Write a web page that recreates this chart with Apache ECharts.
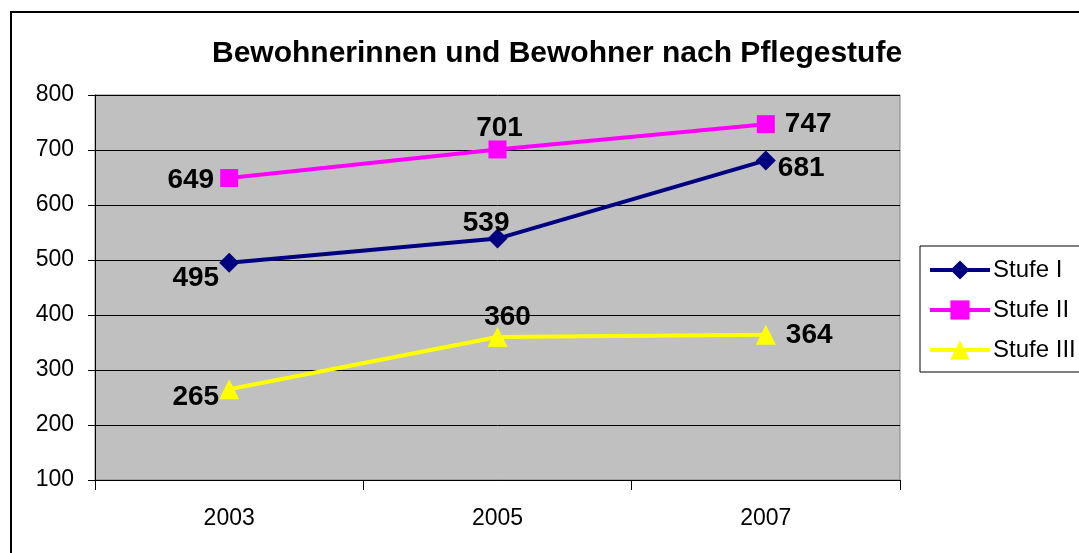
<!DOCTYPE html>
<html>
<head>
<meta charset="utf-8">
<script src="https://cdn.jsdelivr.net/npm/echarts@6/dist/echarts.min.js"></script>
<style>
  html, body { margin: 0; padding: 0; background: #fff; }
  #chart { width: 1079px; height: 553px; }
</style>
</head>
<body>
<div id="chart"></div>
<script>
const years = ['2003', '2005', '2007']
const stufe1 = [495, 539, 681]
const stufe2 = [649, 701, 747]
const stufe3 = [265, 360, 364]

// label placement per point, as in the reference
const labelPos1 = [['left', [6, 16]], ['left', [28, -15]], ['right', [-4, 8]]]
const labelPos2 = [['left', [0, 2]], ['top', [2, 8]], ['right', [4, 0]]]
const labelPos3 = [['left', [6, 8]], ['top', [10, 10]], ['right', [4, 0]]]

const FONT = '"Liberation Sans", Arial, sans-serif'

const makeData = (values, pos) => values.map((v, i) => ({
  value: v,
  label: { position: pos[i][0], offset: pos[i][1] }
}))

const makeSeries = (name, values, pos, color, symbol, size) => ({
  name,
  type: 'line',
  data: makeData(values, pos),
  symbol,
  symbolSize: size,
  lineStyle: { color, width: 4 },
  itemStyle: { color },
  label: {
    show: true,
    distance: 6,
    color: '#000',
    fontFamily: FONT,
    fontWeight: 'bold',
    fontSize: 28
  },
  emphasis: { disabled: true }
})

const chart = echarts.init(document.getElementById('chart'))

chart.setOption({
  animation: false,
  textStyle: { fontFamily: FONT },
  title: {
    text: 'Bewohnerinnen und Bewohner nach Pflegestufe',
    left: 207,
    top: 34,
    textStyle: { fontFamily: FONT, fontWeight: 'bold', fontSize: 30, color: '#000' }
  },
  graphic: [{
    type: 'rect',
    shape: { x: 11, y: 12, width: 1200, height: 700 },
    style: { fill: 'none', stroke: '#000', lineWidth: 2 },
    z: -1
  }],
  legend: {
    orient: 'vertical',
    left: 920,
    top: 246,
    padding: [12, 60, 10, 8],
    itemGap: 16,
    itemWidth: 60,
    itemHeight: 24,
    borderColor: '#000',
    borderWidth: 1,
    backgroundColor: '#fff',
    lineStyle: { width: 4 },
    textStyle: { fontFamily: FONT, fontSize: 24, color: '#000', padding: [0, 0, 0, -2] },
    data: ['Stufe I', 'Stufe II', 'Stufe III']
  },
  grid: {
    left: 95,
    right: 179,
    top: 95,
    bottom: 73,
    show: true,
    backgroundColor: '#C0C0C0',
    borderColor: '#808080',
    borderWidth: 1
  },
  xAxis: {
    type: 'category',
    data: years,
    boundaryGap: true,
    axisLine: { lineStyle: { color: '#000', width: 1 } },
    axisTick: { show: true, length: 10, lineStyle: { color: '#000' } },
    axisLabel: { color: '#000', fontSize: 23, fontFamily: FONT, margin: 27 },
    splitLine: { show: false }
  },
  yAxis: {
    type: 'value',
    min: 100,
    max: 800,
    interval: 100,
    axisLine: { show: true, lineStyle: { color: '#000', width: 1 } },
    axisTick: { show: true, length: 7, lineStyle: { color: '#000' } },
    axisLabel: { color: '#000', fontSize: 23, fontFamily: FONT, margin: 21 },
    splitLine: { show: true, lineStyle: { color: '#000', width: 1 } }
  },
  series: [
    makeSeries('Stufe I', stufe1, labelPos1, '#000080', 'diamond', 20),
    makeSeries('Stufe II', stufe2, labelPos2, '#FF00FF', 'rect', 18),
    makeSeries('Stufe III', stufe3, labelPos3, '#FFFF00', 'triangle', 20)
  ]
})
</script>
</body>
</html>
